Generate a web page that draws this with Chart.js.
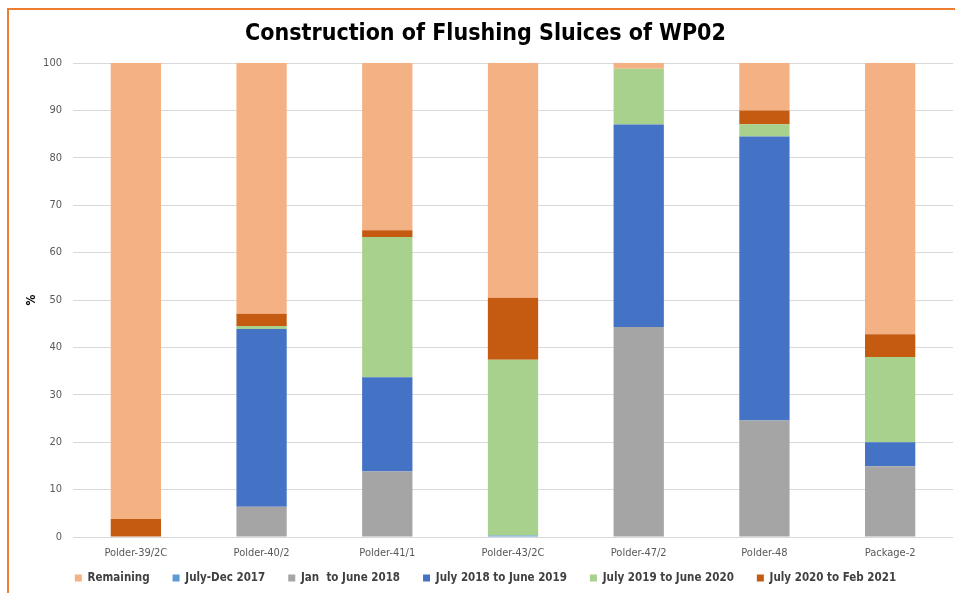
<!DOCTYPE html>
<html>
<head>
<meta charset="utf-8">
<script src="https://cdn.jsdelivr.net/npm/chart.js@4/dist/chart.umd.min.js"></script>
<style>
  html, body { margin: 0; padding: 0; background: #ffffff; overflow: hidden; }
  canvas { display: block; }
</style>
</head>
<body>
<canvas id="c" width="955" height="593"></canvas>
<script>
const categories = ["Polder-39/2C", "Polder-40/2", "Polder-41/1", "Polder-43/2C", "Polder-47/2", "Polder-48", "Package-2"];
const julyDec2017    = [0, 0, 0, 0.3, 0, 0, 0];
const janJune2018    = [0, 6.4, 13.8, 0, 44.3, 24.6, 14.9];
const jul2018Jun2019 = [0, 37.5, 19.9, 0, 42.7, 59.9, 5.1];
const jul2019Jun2020 = [0, 0.6, 29.6, 37.1, 11.8, 2.6, 18.0];
const jul2020Feb2021 = [3.8, 2.6, 1.4, 13.1, 0, 2.9, 4.8];
const remaining      = [96.2, 52.9, 35.3, 49.5, 1.2, 10.0, 57.2];
const yTicks = [0, 10, 20, 30, 40, 50, 60, 70, 80, 90, 100];

const FONT = "'DejaVu Sans Condensed', 'DejaVu Sans', sans-serif";

const legendOrder = ["Remaining", "July-Dec 2017", "Jan  to June 2018", "July 2018 to June 2019", "July 2019 to June 2020", "July 2020 to Feb 2021"];

// Legend: wide horizontal gaps (padding 23) but compact vertical placement.
const legendFitPlugin = {
  id: 'legendFit',
  afterInit(chart) {
    const lg = chart.legend;
    if (!lg) return;
    const origFit = lg.fit;
    lg.fit = function () { origFit.call(this); this.height = 32; };
  },
  afterLayout(chart) {
    const lg = chart.legend;
    if (!lg) return;
    lg.top = 549.25;
    lg.bottom = chart.height;
    lg.height = lg.bottom - lg.top;
  }
};

// Orange frame lines (top and left edges of the chart object).
const framePlugin = {
  id: 'frame',
  afterDraw(chart) {
    const ctx = chart.ctx;
    ctx.save();
    ctx.fillStyle = '#ED7D31';
    ctx.fillRect(7, 8, chart.width - 7, 2);
    ctx.fillRect(7, 8, 2, chart.height - 8);
    ctx.restore();
  }
};

new Chart(document.getElementById('c'), {
  type: 'bar',
  data: {
    labels: categories,
    datasets: [
      { label: "July-Dec 2017", data: julyDec2017, backgroundColor: "#5B9BD5" },
      { label: "Jan  to June 2018", data: janJune2018, backgroundColor: "#A5A5A5" },
      { label: "July 2018 to June 2019", data: jul2018Jun2019, backgroundColor: "#4472C4" },
      { label: "July 2019 to June 2020", data: jul2019Jun2020, backgroundColor: "#A9D18E" },
      { label: "July 2020 to Feb 2021", data: jul2020Feb2021, backgroundColor: "#C55A11" },
      { label: "Remaining", data: remaining, backgroundColor: "#F4B183" }
    ]
  },
  options: {
    responsive: false,
    animation: false,
    devicePixelRatio: 1,
    layout: { padding: { left: 18, right: 2, top: 0, bottom: 0 } },
    datasets: { bar: { categoryPercentage: 1.0, barPercentage: 0.4, borderWidth: 0 } },
    plugins: {
      title: {
        display: true,
        text: "Construction of Flushing Sluices of WP02",
        color: "#000000",
        font: { family: FONT, size: 23, weight: 'bold' },
        padding: { top: 20, bottom: 15.4 }
      },
      legend: {
        position: 'bottom',
        labels: {
          boxWidth: 7, boxHeight: 7, padding: 23,
          color: "#404040",
          font: { family: FONT, size: 11.5, weight: 'bold' },
          sort: (a, b) => legendOrder.indexOf(a.text) - legendOrder.indexOf(b.text)
        }
      },
      tooltip: { enabled: false }
    },
    scales: {
      x: {
        stacked: true,
        grid: { display: false, drawTicks: false },
        border: { display: false },
        ticks: { color: "#595959", font: { family: FONT, size: 11 }, padding: 9.5, maxRotation: 0 },
        afterFit(scale) { scale.height = 24; }
      },
      y: {
        stacked: true,
        min: 0, max: 100,
        afterBuildTicks(scale) { scale.ticks = yTicks.map(v => ({ value: v })); },
        grid: { color: "#D9D9D9", lineWidth: 1, drawTicks: false },
        border: { display: false },
        ticks: { color: "#595959", font: { family: FONT, size: 11 }, padding: 11 },
        title: { display: true, text: "%", color: "#000000", font: { family: FONT, size: 12, weight: 'bold' }, padding: { top: 7, bottom: 0 } },
        afterFit(scale) { scale.width = 55; }
      }
    }
  },
  plugins: [legendFitPlugin, framePlugin]
});
</script>
</body>
</html>
